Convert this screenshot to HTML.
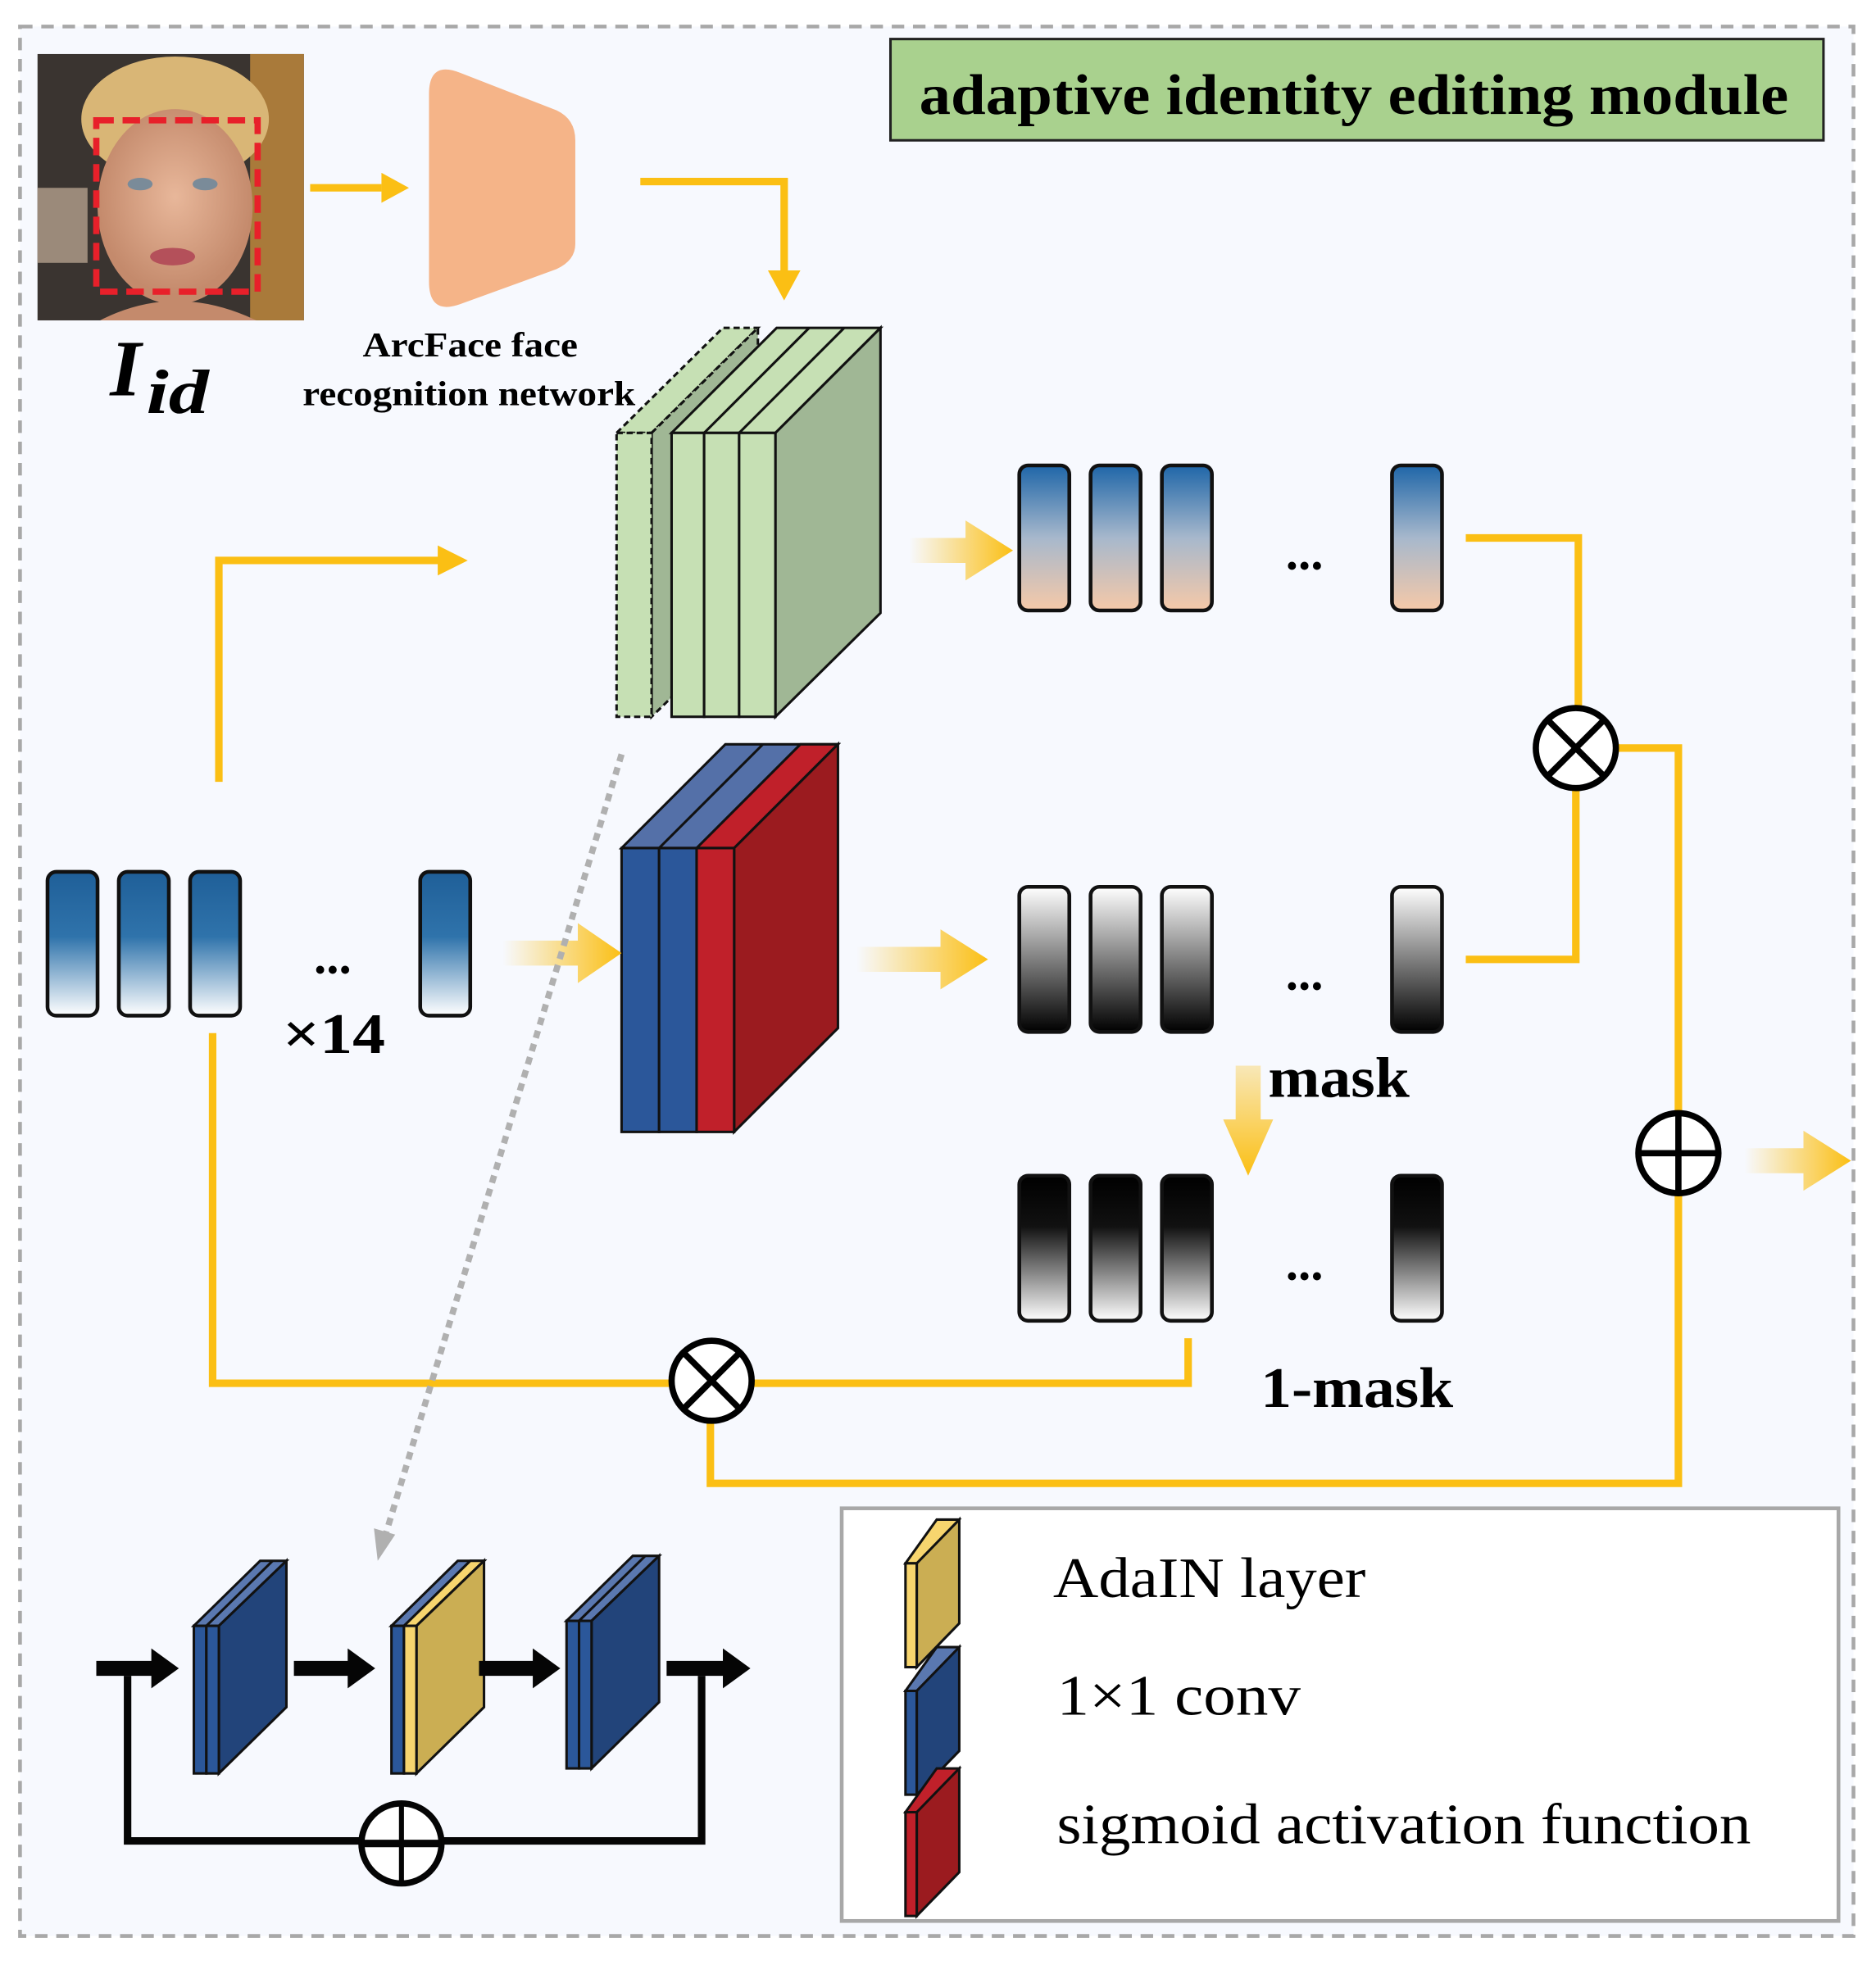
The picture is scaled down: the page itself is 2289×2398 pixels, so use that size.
<!DOCTYPE html>
<html><head><meta charset="utf-8"><style>html,body{margin:0;padding:0;background:#fff}svg{display:block}</style></head>
<body>
<svg width="2289" height="2398" viewBox="0 0 1500 1571" xmlns="http://www.w3.org/2000/svg" font-family="Liberation Serif, serif">
<defs>
<linearGradient id="gb" x1="0" y1="0" x2="0" y2="1"><stop offset="0" stop-color="#1f5f98"/><stop offset="0.45" stop-color="#2f73ab"/><stop offset="1" stop-color="#ffffff"/></linearGradient>
<linearGradient id="gp" x1="0" y1="0" x2="0" y2="1"><stop offset="0" stop-color="#1f66a8"/><stop offset="0.5" stop-color="#a7b8cc"/><stop offset="1" stop-color="#f6c9a8"/></linearGradient>
<linearGradient id="gw" x1="0" y1="0" x2="0" y2="1"><stop offset="0" stop-color="#ffffff"/><stop offset="1" stop-color="#000"/></linearGradient>
<linearGradient id="gk" x1="0" y1="0" x2="0" y2="1"><stop offset="0" stop-color="#000"/><stop offset="0.35" stop-color="#111"/><stop offset="1" stop-color="#fff"/></linearGradient>
<linearGradient id="ga" x1="0" y1="0" x2="1" y2="0"><stop offset="0" stop-color="#fbbf14" stop-opacity="0"/><stop offset="1" stop-color="#fbbf14"/></linearGradient>
<linearGradient id="gd" x1="0" y1="0" x2="0" y2="1"><stop offset="0" stop-color="#fbbf14" stop-opacity="0.3"/><stop offset="1" stop-color="#fbbf14"/></linearGradient>
<radialGradient id="face" cx="0.5" cy="0.45" r="0.5"><stop offset="0" stop-color="#e8b79a"/><stop offset="1" stop-color="#c48a6c"/></radialGradient>
</defs>
<rect x="0" y="0" width="1500" height="1571" fill="#fff"/>
<rect x="16" y="21" width="1466" height="1527" fill="#f7f9fe" stroke="#a8a8a8" stroke-width="3" stroke-dasharray="10,7"/>
<rect x="712" y="31" width="746" height="81" fill="#a9d18e" stroke="#222" stroke-width="2"/>
<text x="735" y="91" font-size="46" font-weight="bold" textLength="695" lengthAdjust="spacingAndGlyphs">adaptive identity editing module</text>
<!-- face -->
<rect x="30" y="43" width="213" height="213" fill="#3a3430"/>
<rect x="200" y="43" width="43" height="213" fill="#a97a3a"/>
<rect x="30" y="150" width="40" height="60" fill="#9b8a7a"/>
<ellipse cx="140" cy="95" rx="75" ry="50" fill="#d9b676"/>
<ellipse cx="140" cy="165" rx="62" ry="78" fill="url(#face)"/>
<path d="M80 256 Q140 225 205 256 Z" fill="#c48a6c"/>
<ellipse cx="112" cy="147" rx="10" ry="5" fill="#7a8b99"/><ellipse cx="164" cy="147" rx="10" ry="5" fill="#7a8b99"/>
<ellipse cx="138" cy="205" rx="18" ry="7" fill="#b4505a"/>
<rect x="77" y="96" width="129" height="137" fill="none" stroke="#e8202a" stroke-width="5" stroke-dasharray="14,7"/>
<text x="88" y="316" font-size="64" font-weight="bold" font-style="italic">I</text>
<text x="117" y="330" font-size="50" font-weight="bold" font-style="italic" textLength="50" lengthAdjust="spacingAndGlyphs">id</text>
<!-- arcface -->
<path d="M248 150 H305" stroke="#fbbf14" stroke-width="6"/><polygon points="305,138 327,150 305,162" fill="#fbbf14"/>
<path d="M343 75 Q343 48 368 58 L445 88 Q460 95 460 112 L460 195 Q460 208 445 215 L368 243 Q343 252 343 225 Z" fill="#f5b488"/>
<text x="290" y="285" font-size="28" font-weight="bold" textLength="172" lengthAdjust="spacingAndGlyphs">ArcFace face</text>
<text x="242" y="324" font-size="28" font-weight="bold" textLength="266" lengthAdjust="spacingAndGlyphs">recognition network</text>
<path d="M512 145 H627 V218" fill="none" stroke="#fbbf14" stroke-width="6"/><polygon points="614,216 627,240 640,216" fill="#fbbf14"/>
<!-- green block -->
<g stroke="#111" stroke-width="2">
<polygon points="493,346 578,262 606,262 521,346" fill="#c6e0b4" stroke-dasharray="5,3"/>
<polygon points="521,346 606,262 606,490 521,573" fill="#a0b795" stroke-dasharray="5,3"/>
<rect x="493" y="346" width="28" height="227" fill="#c6e0b4" stroke-dasharray="5,3"/>
<polygon points="537,346 621,262 704,262 620,346" fill="#c6e0b4"/>
<line x1="563" y1="346" x2="647" y2="262"/><line x1="591" y1="346" x2="675" y2="262"/>
<polygon points="620,346 704,262 704,490 620,573" fill="#a0b795"/>
<rect x="537" y="346" width="26" height="227" fill="#c6e0b4"/>
<rect x="563" y="346" width="28" height="227" fill="#c6e0b4"/>
<rect x="591" y="346" width="29" height="227" fill="#c6e0b4"/>
</g>
<!-- blue/red block -->
<g stroke="#111" stroke-width="2">
<polygon points="497,678 580,595 670,595 587,678" fill="#5470a8"/>
<polygon points="557,678 640,595 670,595 587,678" fill="#c0202a"/>
<line x1="527" y1="678" x2="610" y2="595"/>
<polygon points="587,678 670,595 670,822 587,905" fill="#9b1b1f"/>
<rect x="497" y="678" width="30" height="227" fill="#2b579a"/>
<rect x="527" y="678" width="30" height="227" fill="#2b579a"/>
<rect x="557" y="678" width="30" height="227" fill="#c0202a"/>
</g>
<g stroke="#111" stroke-width="3">
<rect x="38" y="697" width="40" height="115" rx="7" fill="url(#gb)"/>
<rect x="95" y="697" width="40" height="115" rx="7" fill="url(#gb)"/>
<rect x="152" y="697" width="40" height="115" rx="7" fill="url(#gb)"/>
<rect x="336" y="697" width="40" height="115" rx="7" fill="url(#gb)"/>
</g>
<text x="266" y="778" font-size="40" font-weight="bold" text-anchor="middle">...</text>
<text x="226" y="842" font-size="46" font-weight="bold" textLength="82" lengthAdjust="spacingAndGlyphs">×14</text>
<path d="M175 625 V448 H352" fill="none" stroke="#fbbf14" stroke-width="6"/><polygon points="350,436 374,448 350,460" fill="#fbbf14"/>
<g fill="url(#ga)">
<polygon points="402,752 462,752 462,738 497,762 462,786 462,772 402,772"/>
<polygon points="685,757 752,757 752,743 790,767 752,791 752,777 685,777"/>
<polygon points="727,430 772,430 772,416 810,440 772,464 772,450 727,450"/>
<polygon points="1395,918 1442,918 1442,904 1480,928 1442,952 1442,938 1395,938"/>
</g>
<polygon points="988,852 1008,852 1008,895 1018,895 998,940 978,895 988,895" fill="url(#gd)"/>
<g stroke="#111" stroke-width="3">
<rect x="815" y="372" width="40" height="116" rx="7" fill="url(#gp)"/>
<rect x="872" y="372" width="40" height="116" rx="7" fill="url(#gp)"/>
<rect x="929" y="372" width="40" height="116" rx="7" fill="url(#gp)"/>
<rect x="1113" y="372" width="40" height="116" rx="7" fill="url(#gp)"/>
<rect x="815" y="709" width="40" height="116" rx="7" fill="url(#gw)"/>
<rect x="872" y="709" width="40" height="116" rx="7" fill="url(#gw)"/>
<rect x="929" y="709" width="40" height="116" rx="7" fill="url(#gw)"/>
<rect x="1113" y="709" width="40" height="116" rx="7" fill="url(#gw)"/>
<rect x="815" y="940" width="40" height="116" rx="7" fill="url(#gk)"/>
<rect x="872" y="940" width="40" height="116" rx="7" fill="url(#gk)"/>
<rect x="929" y="940" width="40" height="116" rx="7" fill="url(#gk)"/>
<rect x="1113" y="940" width="40" height="116" rx="7" fill="url(#gk)"/>
</g>
<g font-size="40" font-weight="bold" text-anchor="middle">
<text x="1043" y="455">...</text><text x="1043" y="791">...</text><text x="1043" y="1023">...</text>
</g>
<text x="1014" y="877" font-size="46" font-weight="bold" textLength="113" lengthAdjust="spacingAndGlyphs">mask</text>
<text x="1008" y="1125" font-size="46" font-weight="bold" textLength="154" lengthAdjust="spacingAndGlyphs">1-mask</text>
<g fill="none" stroke="#fbbf14" stroke-width="6">
<path d="M1172 430 H1262 V565"/>
<path d="M1260 631 V767 H1172"/>
<path d="M1293 598 H1342 V889"/>
<path d="M1342 955 V1186 H568 V1137"/>
<path d="M170 826 V1106 H536"/>
<path d="M602 1106 H950 V1070"/>
</g>
<g fill="#fff" stroke="#000" stroke-width="5">
<circle cx="1260" cy="598" r="32"/><circle cx="1342" cy="922" r="32"/><circle cx="569" cy="1104" r="32"/>
</g>
<g stroke="#000" stroke-width="5">
<line x1="1237" y1="575" x2="1283" y2="621"/><line x1="1283" y1="575" x2="1237" y2="621"/>
<line x1="1342" y1="890" x2="1342" y2="954"/><line x1="1310" y1="922" x2="1374" y2="922"/>
<line x1="546" y1="1081" x2="592" y2="1127"/><line x1="592" y1="1081" x2="546" y2="1127"/>
</g>
<line x1="497" y1="603" x2="308" y2="1228" stroke="#b0b0b0" stroke-width="5" stroke-dasharray="6,5"/>
<polygon points="299,1222 316,1227 302,1248" fill="#b0b0b0"/>
<g stroke="#111" stroke-width="2">
<polygon points="155,1300 208,1248 229,1248 175,1300" fill="#5a78b0"/>
<line x1="165" y1="1300" x2="218" y2="1248"/>
<polygon points="175,1300 229,1248 229,1365 175,1418" fill="#22447a"/>
<rect x="155" y="1300" width="10" height="118" fill="#2b579a"/><rect x="165" y="1300" width="10" height="118" fill="#2b579a"/>
<polygon points="313,1300 366,1248 387,1248 333,1300" fill="#5a78b0"/>
<polygon points="323,1300 376,1248 387,1248 333,1300" fill="#f7d56e"/>
<polygon points="333,1300 387,1248 387,1365 333,1418" fill="#cbae53"/>
<rect x="313" y="1300" width="10" height="118" fill="#2b579a"/><rect x="323" y="1300" width="10" height="118" fill="#f7d56e"/>
<polygon points="453,1296 506,1244 527,1244 473,1296" fill="#5a78b0"/>
<line x1="463" y1="1296" x2="516" y2="1244"/>
<polygon points="473,1296 527,1244 527,1361 473,1414" fill="#22447a"/>
<rect x="453" y="1296" width="10" height="118" fill="#2b579a"/><rect x="463" y="1296" width="10" height="118" fill="#2b579a"/>
</g>
<g fill="#050505">
<polygon points="77,1328 121,1328 121,1318 143,1334 121,1350 121,1340 77,1340"/>
<polygon points="235,1328 278,1328 278,1318 300,1334 278,1350 278,1340 235,1340"/>
<polygon points="383,1328 426,1328 426,1318 448,1334 426,1350 426,1340 383,1340"/>
<polygon points="533,1328 578,1328 578,1318 600,1334 578,1350 578,1340 533,1340"/>
</g>
<path d="M102 1340 V1472 H561 V1340" fill="none" stroke="#050505" stroke-width="6"/>
<circle cx="321" cy="1474" r="32" fill="#fff" stroke="#050505" stroke-width="5"/>
<line x1="321" y1="1442" x2="321" y2="1506" stroke="#050505" stroke-width="4"/><line x1="289" y1="1474" x2="353" y2="1474" stroke="#050505" stroke-width="6"/>
<rect x="673" y="1206" width="797" height="330" fill="#fff" stroke="#a8a8a8" stroke-width="3"/>
<g stroke="#111" stroke-width="2">
<polygon points="724,1250 749,1215 767,1215 742,1250" fill="#f7d56e"/>
<polygon points="733,1250 767,1215 767,1298 733,1333" fill="#cbae53"/>
<rect x="724" y="1250" width="9" height="83" fill="#f7d56e"/>
<polygon points="724,1352 749,1317 767,1317 742,1352" fill="#5a78b0"/>
<polygon points="733,1352 767,1317 767,1400 733,1435" fill="#22447a"/>
<rect x="724" y="1352" width="9" height="83" fill="#2b579a"/>
<polygon points="724,1449 749,1414 767,1414 742,1449" fill="#c0202a"/>
<polygon points="733,1449 767,1414 767,1497 733,1532" fill="#9b1b1f"/>
<rect x="724" y="1449" width="9" height="83" fill="#c0202a"/>
</g>
<g font-size="46">
<text x="842" y="1277" textLength="250" lengthAdjust="spacingAndGlyphs">AdaIN layer</text>
<text x="845" y="1371" textLength="195" lengthAdjust="spacingAndGlyphs">1×1 conv</text>
<text x="845" y="1474" textLength="555" lengthAdjust="spacingAndGlyphs">sigmoid activation function</text>
</g>
</svg>
</body></html>
